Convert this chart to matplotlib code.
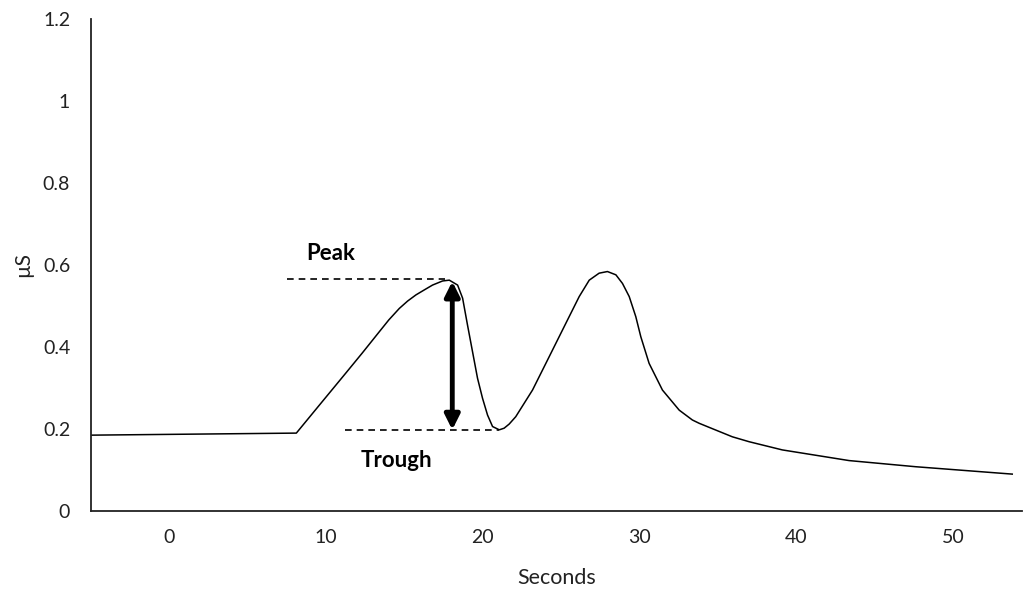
import matplotlib
matplotlib.use("Agg")
import matplotlib.pyplot as plt

# Skin conductance curve
seconds = [-5.0, 8.1, 9.5, 11.27, 12.3, 13.39, 14.0, 14.67, 15.2, 15.73, 16.3, 16.79,
           17.43, 17.86, 18.39, 18.71, 19.02, 19.34, 19.66, 19.98, 20.3, 20.62,
           21.05, 21.36, 21.68, 22.1, 23.17, 24.23, 25.3, 26.15, 26.79, 27.42,
           27.95, 28.49, 28.91, 29.34, 29.76, 30.08, 30.61, 31.46, 32.53, 33.37,
           33.8, 34.44, 35.92, 36.99, 39.11, 43.37, 47.62, 53.78]
us = [0.185, 0.19, 0.255, 0.337, 0.385, 0.437, 0.466, 0.494, 0.512, 0.527, 0.54, 0.551,
      0.561, 0.563, 0.551, 0.519, 0.454, 0.389, 0.324, 0.275, 0.234, 0.206,
      0.198, 0.202, 0.212, 0.23, 0.295, 0.376, 0.458, 0.523, 0.563, 0.58,
      0.584, 0.576, 0.555, 0.523, 0.474, 0.425, 0.36, 0.295, 0.246, 0.222,
      0.214, 0.204, 0.181, 0.169, 0.149, 0.123, 0.108, 0.090]

peak_x = [7.5, 17.6]
peak_y = 0.565
trough_x = [11.2, 21.05]
trough_y = 0.198
arrow_x = 18.05

x_ticks = [0, 10, 20, 30, 40, 50]
y_ticks = [0, 0.2, 0.4, 0.6, 0.8, 1.0, 1.2]
y_tick_labels = ["0", "0.2", "0.4", "0.6", "0.8", "1", "1.2"]

plt.rcParams['font.family'] = ['Lato', 'DejaVu Sans']

fig = plt.figure(figsize=(10.24, 5.92), dpi=100)
ax = fig.add_axes([0.0889, 0.1368, 0.9091, 0.8312])

ax.plot(seconds, us, color='black', lw=1.1, solid_joinstyle='round')
ax.plot(peak_x, [peak_y, peak_y], color='black', lw=1.2, ls=(0, (4, 3)))
ax.plot(trough_x, [trough_y, trough_y], color='black', lw=1.2, ls=(0, (4, 3)))
ax.annotate('', xy=(arrow_x, trough_y), xytext=(arrow_x, peak_y - 0.005),
            arrowprops=dict(arrowstyle='<|-|>', color='black', lw=3.5,
                            mutation_scale=22, shrinkA=0, shrinkB=0))
ax.text(10.3, 0.629, 'Peak', fontsize=16, fontweight='bold', ha='center', va='center')
ax.text(14.48, 0.124, 'Trough', fontsize=16, fontweight='bold', ha='center', va='center')

ax.set_xlim(-5, 54.4)
ax.set_ylim(0, 1.2)
ax.set_xticks(x_ticks)
ax.set_yticks(y_ticks)
ax.set_yticklabels(y_tick_labels)
ax.tick_params(length=0, labelsize=14, colors='#222222')
ax.tick_params(axis='x', pad=13)
ax.tick_params(axis='y', pad=15)
for s in ['top', 'right']:
    ax.spines[s].set_visible(False)
for s in ['left', 'bottom']:
    ax.spines[s].set_linewidth(1.3)
    ax.spines[s].set_color('#222222')

ax.set_xlabel('Seconds', fontsize=15.5, labelpad=16, color='#222222')
ax.set_ylabel('µS', fontsize=15, labelpad=7, color='#222222')

fig.savefig('out.png', dpi=100)
